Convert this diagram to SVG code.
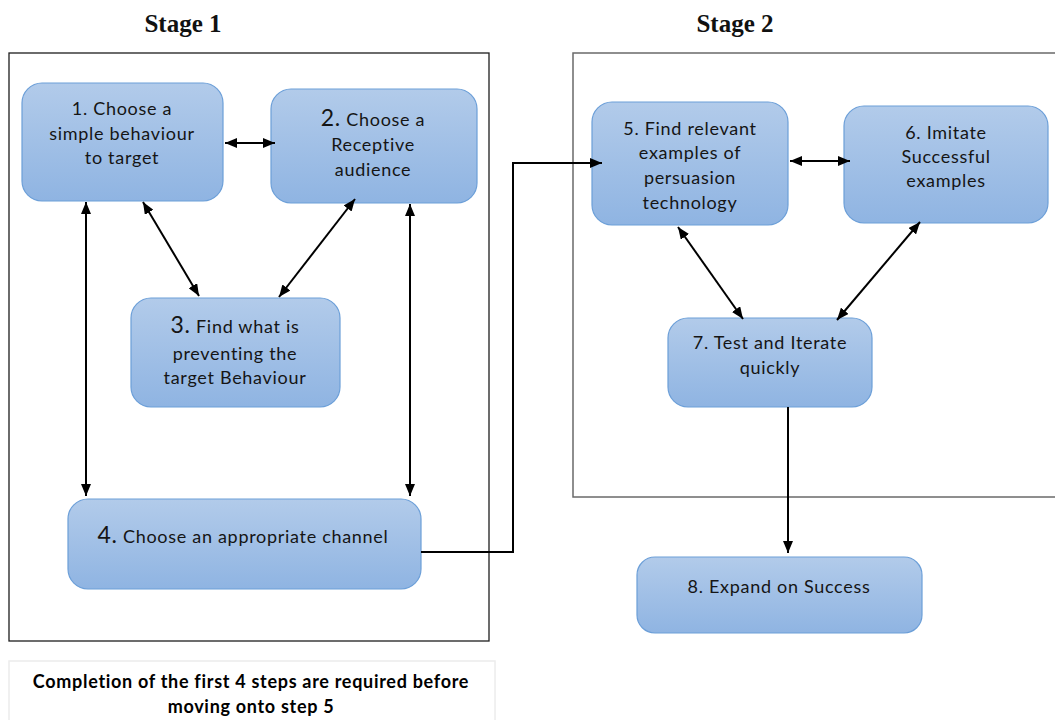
<svg xmlns="http://www.w3.org/2000/svg" width="1055" height="720" viewBox="0 0 1055 720">
  <defs>
    <linearGradient id="boxFill" x1="0" y1="0" x2="0" y2="1">
      <stop offset="0" stop-color="#b2cbea"/>
      <stop offset="1" stop-color="#8fb4e2"/>
    </linearGradient>
    <marker id="head" viewBox="0 0 12 10" refX="12" refY="5" markerWidth="12" markerHeight="10" markerUnits="userSpaceOnUse" orient="auto-start-reverse">
      <path d="M0,0 L12,5 L0,10 z" fill="#000"/>
    </marker>
  </defs>
  <style>
    .frame1 { fill: none; stroke: #1e1e1e; stroke-width: 1.3; }
    .frame2 { fill: none; stroke: #6a6a6a; stroke-width: 1.5; }
    .note { fill: #fff; stroke: #ececec; stroke-width: 1.5; }
    .box { fill: url(#boxFill); stroke: #6c9fd8; stroke-width: 1.2; }
    .lbl { font-family: Lato, "Open Sans", sans-serif; font-size: 18px; letter-spacing: 0.7px; fill: #151515; text-anchor: middle; }
    .big { font-size: 23px; }
    .stage { font-family: "Liberation Serif", serif; font-weight: bold; font-size: 25px; fill: #111; text-anchor: middle; }
    .noteText { font-family: Lato, "Open Sans", sans-serif; font-weight: bold; font-size: 18px; letter-spacing: 0.7px; fill: #000; text-anchor: middle; }
    .link { fill: none; stroke: #000; stroke-width: 2; }
    .two { marker-start: url(#head); marker-end: url(#head); }
    .one { marker-end: url(#head); }
  </style>

  <!-- stage headings and frames -->
  <text class="stage" x="183" y="32">Stage 1</text>
  <text class="stage" x="735" y="32">Stage 2</text>
  <rect class="frame1" x="9" y="53" width="480" height="588"/>
  <rect class="frame2" x="573" y="53" width="500" height="444"/>

  <!-- nodes -->
  <g id="n1">
    <rect class="box" x="22" y="83" width="201" height="118" rx="20"/>
    <text class="lbl" x="122" y="115">1. Choose a</text>
    <text class="lbl" x="122" y="140">simple behaviour</text>
    <text class="lbl" x="122" y="164">to target</text>
  </g>
  <g id="n2">
    <rect class="box" x="271" y="89" width="206" height="114" rx="20"/>
    <text class="lbl" x="373" y="126"><tspan class="big">2.</tspan> Choose a</text>
    <text class="lbl" x="373" y="151">Receptive</text>
    <text class="lbl" x="373" y="176">audience</text>
  </g>
  <g id="n3">
    <rect class="box" x="131" y="298" width="209" height="109" rx="20"/>
    <text class="lbl" x="235" y="333"><tspan class="big">3.</tspan> Find what is</text>
    <text class="lbl" x="235" y="360">preventing the</text>
    <text class="lbl" x="235" y="384">target Behaviour</text>
  </g>
  <g id="n4">
    <rect class="box" x="68" y="499" width="353" height="90" rx="20"/>
    <text class="lbl" x="243" y="543"><tspan class="big">4.</tspan> Choose an appropriate channel</text>
  </g>
  <g id="n5">
    <rect class="box" x="592" y="102" width="196" height="123" rx="20"/>
    <text class="lbl" x="690" y="135">5. Find relevant</text>
    <text class="lbl" x="690" y="159">examples of</text>
    <text class="lbl" x="690" y="184">persuasion</text>
    <text class="lbl" x="690" y="209">technology</text>
  </g>
  <g id="n6">
    <rect class="box" x="844" y="106" width="204" height="117" rx="20"/>
    <text class="lbl" x="946" y="139">6. Imitate</text>
    <text class="lbl" x="946" y="163">Successful</text>
    <text class="lbl" x="946" y="187">examples</text>
  </g>
  <g id="n7">
    <rect class="box" x="668" y="318" width="204" height="89" rx="20"/>
    <text class="lbl" x="770" y="349">7. Test and Iterate</text>
    <text class="lbl" x="770" y="374">quickly</text>
  </g>
  <g id="n8">
    <rect class="box" x="637" y="557" width="285" height="76" rx="18"/>
    <text class="lbl" x="779" y="593">8. Expand on Success</text>
  </g>

  <!-- connectors -->
  <g id="links">
    <line class="link two" x1="225" y1="143" x2="275" y2="143"/>
    <line class="link two" x1="143" y1="202" x2="199" y2="296"/>
    <line class="link two" x1="355" y1="199" x2="279" y2="297"/>
    <line class="link two" x1="86" y1="202" x2="86" y2="496"/>
    <line class="link two" x1="410" y1="204" x2="410" y2="496"/>
    <polyline class="link one" points="421,552 513,552 513,163 602,163"/>
    <line class="link two" x1="790" y1="161" x2="850" y2="161"/>
    <line class="link two" x1="678" y1="227" x2="743" y2="319"/>
    <line class="link two" x1="920" y1="222" x2="837" y2="320"/>
    <line class="link one" x1="788" y1="407" x2="788" y2="553"/>
  </g>

  <!-- prerequisite note -->
  <g id="note">
    <rect class="note" x="9" y="661" width="486" height="70"/>
    <text class="noteText" x="251" y="688">Completion of the first 4 steps are required before</text>
    <text class="noteText" x="251" y="713">moving onto step 5</text>
  </g>
</svg>
